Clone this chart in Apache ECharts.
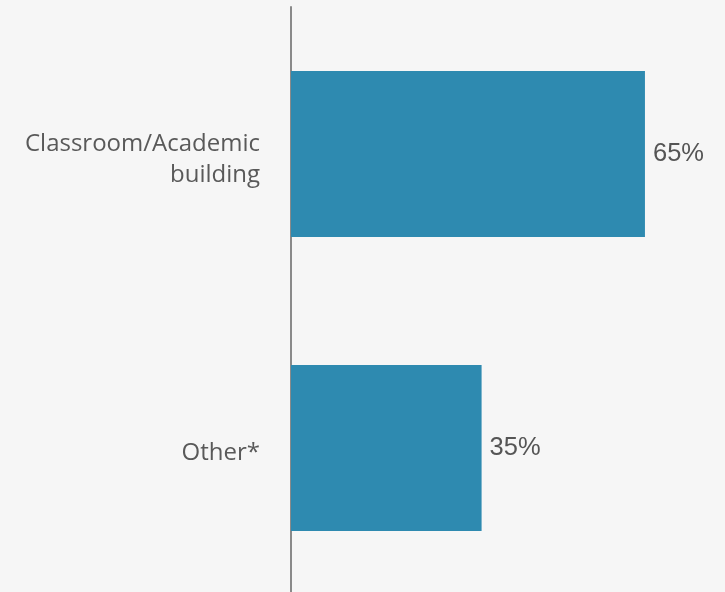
<!DOCTYPE html>
<html>
<head>
<meta charset="utf-8">
<script src="https://cdn.jsdelivr.net/npm/echarts@6/dist/echarts.min.js"></script>
<style>
  html, body { margin: 0; padding: 0; background: #f6f6f6; }
  #chart { width: 725px; height: 592px; }
</style>
</head>
<body>
<div id="chart"></div>
<script>
// Share of locations (percent)
const categories = ['Classroom/Academic\nbuilding', 'Other*'];
const values = [65, 35];

const chart = echarts.init(document.getElementById('chart'));
chart.setOption({
  backgroundColor: '#f6f6f6',
  animation: false,
  grid: [
    // plotting area with the bars and the baseline
    { left: 291, right: 0, top: 7, height: 588, outerBoundsMode: 'none' },
    // companion grid carrying the category labels, set a little lower
    { left: 291, right: 0, top: 12.5, height: 588, outerBoundsMode: 'none' }
  ],
  xAxis: [
    { type: 'value', gridIndex: 0, min: 0, max: 79.7, show: false },
    { type: 'value', gridIndex: 1, min: 0, max: 79.7, show: false }
  ],
  yAxis: [
    {
      type: 'category',
      gridIndex: 0,
      inverse: true,
      data: categories,
      axisLine: { show: true, lineStyle: { color: '#8a8a8a', width: 2 } },
      axisTick: { show: false },
      axisLabel: { show: false }
    },
    {
      type: 'category',
      gridIndex: 1,
      inverse: true,
      data: categories,
      axisLine: { show: false },
      axisTick: { show: false },
      axisLabel: {
        margin: 31,
        color: '#595959',
        fontFamily: 'Open Sans',
        fontSize: 24,
        lineHeight: 31,
        align: 'right'
      }
    }
  ],
  series: [{
    type: 'bar',
    xAxisIndex: 0,
    yAxisIndex: 0,
    data: values,
    barWidth: 166,
    itemStyle: { color: '#2e8ab0' },
    label: {
      show: true,
      position: 'right',
      distance: 8,
      formatter: '{c}%',
      color: '#555555',
      fontFamily: 'Liberation Sans',
      fontSize: 25.5
    }
  }]
});
</script>
</body>
</html>
